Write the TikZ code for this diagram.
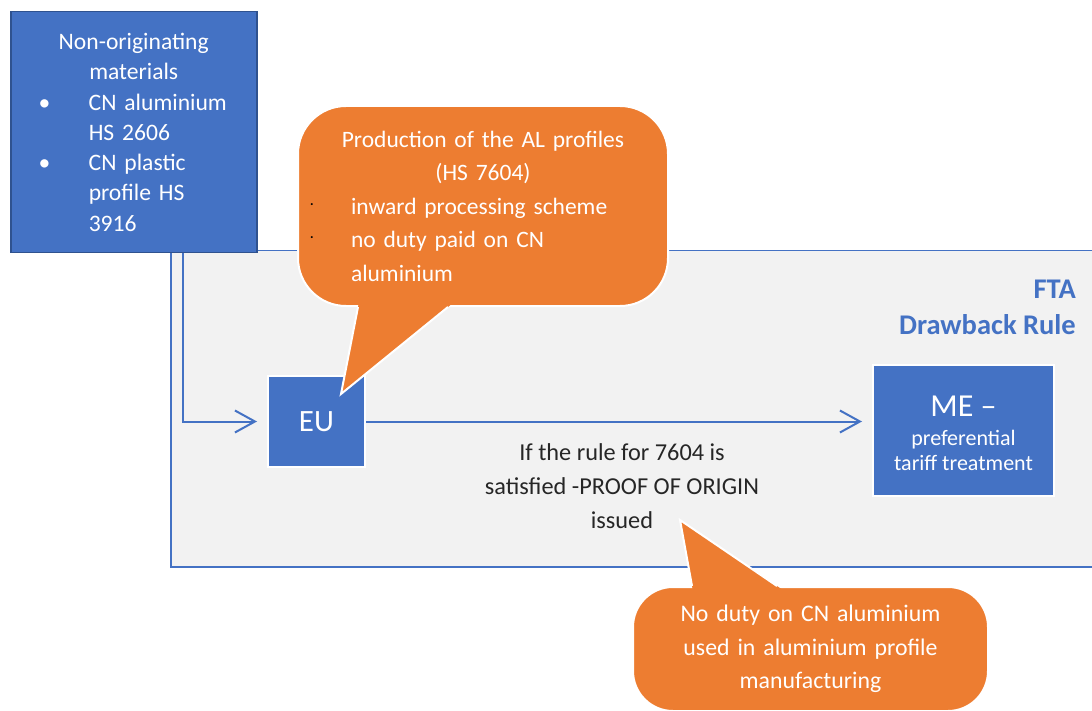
\documentclass[tikz,border=0pt]{standalone}
\usepackage{fontspec}
\setmainfont{Carlito}
\usetikzlibrary{arrows.meta,calc}

\definecolor{boxblue}{HTML}{4472C4}
\definecolor{edgeblue}{HTML}{2F528F}
\definecolor{calloutorange}{HTML}{ED7D31}
\definecolor{panelgrey}{HTML}{F2F2F2}

\tikzset{
  panel/.style={draw=boxblue, line width=1.5pt, fill=panelgrey, inner sep=0pt},
  matbox/.style={draw=edgeblue, line width=1.5pt, fill=boxblue, text=white,
    inner sep=0pt, text width=246pt, align=left,
    font=\fontsize{23.6}{30.3}\selectfont},
  bluebox/.style={draw=white, line width=2pt, fill=boxblue, text=white, inner sep=0pt},
  callout/.style={draw=white, line width=2pt, fill=calloutorange, text=white,
    inner sep=0pt, align=left},
  tailfill/.style={fill=calloutorange},
  tailedge/.style={draw=white, line width=2pt, line join=miter},
  flow/.style={draw=boxblue, line width=2pt,
    -{Straight Barb[length=20pt,width=22pt,line width=2pt]}},
  ftalabel/.style={text=boxblue, font=\bfseries\fontsize{28.5}{36}\selectfont,
    align=right, inner sep=0pt},
  midtext/.style={text=black!85, align=center, inner sep=0pt,
    font=\fontsize{24.3}{34}\selectfont},
}

\newcommand{\tinydot}{\raisebox{6pt}{\textcolor{black}{\fontsize{14}{14}\selectfont ·}}}

\begin{document}
\begin{tikzpicture}[x=1pt,y=-1pt]
\useasboundingbox (0,0) rectangle (1092,711);
\clip (0,0) rectangle (1092,711);

% FTA area
\node[panel, anchor=north west, minimum width=940pt, minimum height=316pt]
  (fta) at (170,250) {};
\node[ftalabel, anchor=north east] (ftatxt) at (1076,280) {FTA\\Drawback Rule};

% Imported materials
\node[matbox, anchor=north west, minimum height=241pt] (mat) at (10,11) {%
  \makebox[246pt]{Non-originating}\\
  \makebox[246pt]{materials}\\
  \hspace*{28pt}\makebox[50pt][l]{•}CN aluminium\\
  \hspace*{78pt}HS 2606\\
  \hspace*{28pt}\makebox[50pt][l]{•}CN plastic\\
  \hspace*{78pt}profile HS\\
  \hspace*{78pt}3916\\[4pt]};

% Countries
\node[bluebox, minimum width=97pt, minimum height=91pt,
  font=\fontsize{31}{36}\selectfont] (eu) at (316.5,421.5) {EU};
\node[bluebox, minimum width=181pt, minimum height=131pt, align=center,
  font=\fontsize{22}{25}\selectfont] (me) at (963.5,430) {};
\node[text=white, align=center, inner sep=0pt,
  font=\fontsize{22}{25}\selectfont] (metxt) at ($(me.center)+(0,3)$)
  {{\fontsize{32}{34}\selectfont ME –}\\[4pt]preferential\\tariff treatment};

% Flows
\draw[flow, shorten >=10pt] ([xshift=173pt]mat.south west) |- (eu.west);
\draw[flow, shorten >=10pt] (eu.east) -- (eu.east -| me.west);

\node[midtext] (cond) at (622,486)
  {If the rule for 7604 is\\satisfied -PROOF OF ORIGIN\\issued};

% Callout on production in the EU
\node[callout, anchor=north west, minimum width=370pt, minimum height=200pt,
  text width=370pt, rounded corners=48pt,
  font=\fontsize{23.5}{33.5}\selectfont] (c1) at (297,105) {%
  \makebox[370pt]{Production of the AL profiles}\\
  \makebox[370pt]{(HS 7604)}\\
  \hspace*{12pt}\makebox[41pt][l]{\tinydot}inward processing scheme\\
  \hspace*{12pt}\makebox[41pt][l]{\tinydot}no duty paid on CN\\
  \hspace*{53pt}aluminium};
\coordinate (c1a) at ($(c1.south west)+(61,0)$);
\coordinate (c1b) at ($(c1.south west)+(151,0)$);
\coordinate (c1tip) at ($(eu.north east)+(-25,19)$);
\fill[tailfill] ($(c1tip)!1.08!(c1a)$) -- (c1tip) -- ($(c1tip)!1.08!(c1b)$) -- cycle;
\draw[tailedge] (c1a) -- (c1tip) -- (c1b);

% Callout on the duty
\node[callout, anchor=north west, minimum width=355pt, minimum height=124pt,
  text width=355pt, align=center, rounded corners=40pt,
  font=\fontsize{23.8}{33.5}\selectfont] (c2) at (632,586)
  {No duty on CN aluminium\\used in aluminium profile\\manufacturing};
\coordinate (c2a) at ($(c2.north west)+(60,0)$);
\coordinate (c2b) at ($(c2.north west)+(145,0)$);
\coordinate (c2tip) at ($(c2.north west)+(48,-66)$);
\fill[tailfill] ($(c2tip)!1.1!(c2a)$) -- (c2tip) -- ($(c2tip)!1.1!(c2b)$) -- cycle;
\draw[tailedge] (c2a) -- (c2tip) -- (c2b);
\end{tikzpicture}
\end{document}
